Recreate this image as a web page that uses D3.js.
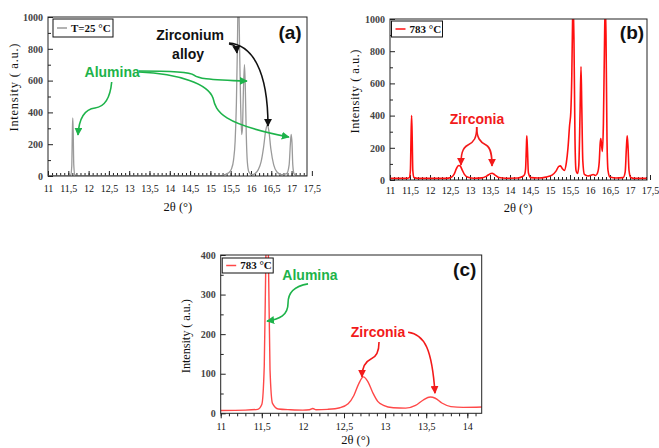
<!DOCTYPE html>
<html>
<head>
<meta charset="utf-8">
<script src="https://cdn.jsdelivr.net/npm/d3@7"></script>
<style>
    body { margin: 0; background: #fff; }
    svg text { font-family: "Liberation Serif", "Times New Roman", serif; }
    .note { font-family: "Liberation Sans", Arial, sans-serif; font-weight: bold; }
</style>
</head>
<body>
<svg id="fig" width="659" height="448"></svg>
<script>
// [2theta (deg), intensity (a.u.)]
const scanRoomTemp = [
    [11.00,0],[11.50,0],[11.56,6],[11.585,60],[11.60,280],[11.61,365],[11.62,290],[11.635,70],[11.66,8],[11.75,0],
    [15.20,0],[15.35,8],[15.45,20],[15.52,45],[15.57,100],[15.61,220],[15.64,450],[15.665,800],[15.68,1050],[15.70,1080],
    [15.72,800],[15.745,450],[15.77,260],[15.79,300],[15.815,550],[15.84,700],[15.86,560],[15.885,250],[15.91,90],[15.95,25],
    [16.02,8],[16.10,15],[16.18,40],[16.25,90],[16.31,180],[16.36,280],[16.40,322],[16.44,285],[16.49,170],[16.56,70],
    [16.64,25],[16.75,8],[16.88,15],[16.94,70],[16.97,200],[16.99,262],[17.01,210],[17.03,70],[17.06,15],[17.12,3],[17.20,0],[17.38,0]
];
const scanHotWide = [
    [11.00,10],[11.40,10],[11.48,14],[11.51,60],[11.525,250],[11.54,400],[11.555,260],[11.57,60],[11.60,15],[11.70,10],
    [12.40,10],[12.52,15],[12.60,35],[12.66,70],[12.71,90],[12.75,88],[12.80,65],[12.86,35],[12.95,17],[13.10,11],
    [13.30,13],[13.42,25],[13.50,38],[13.55,42],[13.62,32],[13.72,16],[13.90,11],[14.20,12],[14.30,20],[14.36,32],
    [14.39,70],[14.41,210],[14.42,275],[14.435,200],[14.46,45],[14.52,15],[14.70,12],[14.90,18],[15.05,30],[15.15,55],
    [15.22,85],[15.26,88],[15.31,70],[15.36,60],[15.41,110],[15.45,200],[15.49,340],[15.52,420],[15.545,650],[15.565,1000],
    [15.58,1100],[15.60,850],[15.625,250],[15.65,60],[15.69,40],[15.72,90],[15.75,400],[15.775,705],[15.795,450],[15.82,120],
    [15.86,35],[15.95,25],[16.02,30],[16.08,34],[16.14,28],[16.19,45],[16.23,110],[16.255,230],[16.27,258],[16.29,215],
    [16.31,178],[16.335,350],[16.36,800],[16.38,1100],[16.40,900],[16.425,250],[16.45,60],[16.50,18],[16.65,12],[16.83,15],
    [16.88,50],[16.91,200],[16.93,275],[16.95,210],[16.975,60],[17.02,15],[17.10,10],[17.43,10]
];
const scanHotZoom = [
    [11.00,7],[11.30,8],[11.45,10],[11.50,22],[11.53,120],[11.55,400],[11.565,520],[11.58,400],[11.60,110],[11.63,25],
    [11.70,11],[11.85,9],[12.00,8],[12.08,9],[12.12,12],[12.16,9],[12.30,10],[12.45,14],[12.55,24],[12.62,45],
    [12.68,75],[12.735,92],[12.79,80],[12.85,52],[12.91,30],[12.98,20],[13.10,14],[13.25,13],[13.37,20],[13.46,33],
    [13.55,41],[13.61,38],[13.69,26],[13.80,17],[13.95,15],[14.18,16]
];

const xTicksWide = [11,11.5,12,12.5,13,13.5,14,14.5,15,15.5,16,16.5,17,17.5];
const xTicksZoom = [11,11.5,12,12.5,13,13.5,14];
const yTicksWide = [0,200,400,600,800,1000];
const yTicksZoom = [0,100,200,300,400];

const GREEN = '#1db34a', RED = '#f21a1a', BLACK = '#111';

// annotations, points in data units: M p0, then C triples (or a final Q pair)
const notesA = {
    texts: [
        {t: 'Alumina', at: [12.58,654], color: GREEN},
        {t: 'Zirconium', at: [14.50,887], color: BLACK},
        {t: 'alloy', at: [14.45,767], color: BLACK}
    ],
    arrows: [
        {color: GREEN, pts: [[12.569,591],[12.527,478],[12.379,434],[12.158,428],[11.911,421],[11.764,365],[11.739,258]]},
        {color: GREEN, pts: [[13.241,660],[14.005,660],[14.498,654],[14.596,635],[14.695,616],[14.867,604],[15.901,597]]},
        {color: GREEN, pts: [[13.241,654],[14.251,642],[14.941,579],[15.064,491],[15.138,403],[15.286,327],[16.936,245]]},
        {color: BLACK, pts: [[15.458,830],[15.60,826],[15.64,815],[15.655,774]]},
        {color: BLACK, pts: [[15.458,836],[16.025,824],[16.419,667],[16.419,314]]}
    ]
};
const notesB = {
    texts: [{t: 'Zirconia', at: [13.175,379], color: RED}],
    arrows: [
        {color: RED, pts: [[13.168,329],[13.168,261],[13.10,236],[12.95,217],[12.80,199],[12.775,155],[12.775,93]]},
        {color: RED, pts: [[13.168,329],[13.168,261],[13.25,236],[13.40,217],[13.525,199],[13.55,155],[13.55,87]]}
    ]
};
const notesC = {
    texts: [
        {t: 'Alumina', at: [12.086,349], color: GREEN},
        {t: 'Zirconia', at: [12.914,205], color: RED}
    ],
    arrows: [
        {color: GREEN, pts: [[12.062,327],[11.892,321],[11.819,306],[11.819,278],[11.819,248],[11.721,238],[11.563,233]]},
        {color: RED, pts: [[12.926,180],[12.926,155],[12.889,142],[12.828,137],[12.755,130],[12.719,115],[12.719,92]]},
        {color: RED, pts: [[13.279,205],[13.486,200],[13.571,160],[13.607,51]]}
    ]
};

const svg = d3.select('#fig');
const defs = svg.append('defs');
[['g', GREEN], ['r', RED], ['k', BLACK]].forEach(([id, c]) => {
    defs.append('marker')
        .attr('id', 'head-' + id)
        .attr('viewBox', '0 0 10 10')
        .attr('refX', 9).attr('refY', 5)
        .attr('markerWidth', 8).attr('markerHeight', 8)
        .attr('markerUnits', 'userSpaceOnUse')
        .attr('orient', 'auto')
        .append('path').attr('d', 'M0,0 L10,5 L0,10 z').attr('fill', c);
});
const headId = c => c === GREEN ? 'head-g' : (c === RED ? 'head-r' : 'head-k');

function fmt(d) { return String(d).replace('.', ','); }

function drawPanel(o) {
    const x = d3.scaleLinear().domain(o.xDomain).range([o.left, o.right]);
    const y = d3.scaleLinear().domain([0, o.yMax]).range([o.bottom, o.top]);
    const g = svg.append('g');

    defs.append('clipPath').attr('id', 'clip-' + o.id)
        .append('rect')
        .attr('x', o.left).attr('y', o.top)
        .attr('width', o.right - o.left).attr('height', o.bottom - o.top);

    // minor ticks
    const minorX = d3.range(Math.round(o.xDomain[0] * 10), Math.floor(o.xDomain[1] * 10) + 1).map(v => v / 10);
    g.append('g')
        .attr('transform', `translate(0,${o.bottom})`)
        .call(d3.axisBottom(x).tickValues(minorX).tickFormat('').tickSize(o.tickDir * 3))
        .call(s => s.select('.domain').remove())
        .selectAll('line').attr('stroke', '#222');
    const minorY = o.yTicks.slice(0, -1).map((v, i) => (v + o.yTicks[i + 1]) / 2);
    g.append('g')
        .attr('transform', `translate(${o.left},0)`)
        .call(d3.axisLeft(y).tickValues(minorY).tickFormat('').tickSize(-3))
        .call(s => s.select('.domain').remove())
        .selectAll('line').attr('stroke', '#222');

    // major ticks
    const xa = g.append('g')
        .attr('transform', `translate(0,${o.bottom})`)
        .call(d3.axisBottom(x).tickValues(o.xTicks).tickFormat(fmt).tickSize(o.tickDir * 5).tickPadding(o.xPad));
    xa.select('.domain').remove();
    xa.attr('font-family', null);
    xa.selectAll('line').attr('stroke', '#222');
    xa.selectAll('text').style('font-size', '10px').attr('fill', '#111');

    const ya = g.append('g')
        .attr('transform', `translate(${o.left},0)`)
        .call(d3.axisLeft(y).tickValues(o.yTicks).tickFormat(d => String(d)).tickSize(-5).tickPadding(5));
    ya.select('.domain').remove();
    ya.attr('font-family', null);
    ya.selectAll('line').attr('stroke', '#222');
    ya.selectAll('text').style('font-size', '10px').style('font-weight', 'bold').attr('fill', '#444');

    // the scan
    const line = d3.line()
        .x(d => x(d[0]))
        .y(d => y(d[1]))
        .curve(d3.curveMonotoneX);
    g.append('path')
        .datum(o.data)
        .attr('clip-path', `url(#clip-${o.id})`)
        .attr('fill', 'none')
        .attr('stroke', o.color)
        .attr('stroke-width', o.lineWidth)
        .attr('d', line);

    // frame
    g.append('rect')
        .attr('x', o.left).attr('y', o.top)
        .attr('width', o.right - o.left).attr('height', o.bottom - o.top)
        .attr('fill', 'none').attr('stroke', '#222').attr('stroke-width', 1);

    // legend
    const lg = g.append('g').attr('transform', `translate(${o.left + o.legend.dx},${o.top + o.legend.dy})`);
    lg.append('rect').attr('width', o.legend.w).attr('height', o.legend.h)
        .attr('fill', '#fff').attr('stroke', '#111').attr('stroke-width', 1);
    lg.append('line').attr('x1', 4).attr('x2', 14).attr('y1', o.legend.h / 2).attr('y2', o.legend.h / 2)
        .attr('stroke', o.color).attr('stroke-width', 1.5);
    lg.append('text').attr('x', 18).attr('y', o.legend.h / 2).attr('dy', '0.35em')
        .style('font-size', '11px').style('font-weight', 'bold').attr('fill', '#111')
        .text(o.legend.label);

    // panel tag
    g.append('text').attr('class', 'note')
        .attr('x', o.right - o.tagDx).attr('y', o.top + o.tagDy)
        .attr('text-anchor', 'middle')
        .style('font-size', '19px').attr('fill', '#111')
        .text(o.tag);

    // axis titles
    g.append('text')
        .attr('transform', `translate(${o.left - o.yTitleDx},${(o.top + o.bottom) / 2 + o.yTitleDy}) rotate(-90)`)
        .attr('text-anchor', 'middle')
        .attr('textLength', o.yTitleLen).attr('lengthAdjust', 'spacing')
        .style('font-size', '12.5px').attr('fill', '#111')
        .text('Intensity ( a.u.)');
    g.append('text')
        .attr('x', x(o.xTitleAt)).attr('y', o.bottom + o.xTitleDy)
        .attr('text-anchor', 'middle')
        .style('font-size', '12.5px').attr('fill', '#111')
        .text('2θ (°)');

    // annotations
    o.notes.arrows.forEach(a => {
        const p = a.pts.map(d => [x(d[0]), y(d[1])]);
        let d = `M${p[0]}`;
        let i = 1;
        while (i < p.length) {
            if (p.length - i === 2) { d += `Q${p[i]} ${p[i + 1]}`; break; }
            d += `C${p[i]} ${p[i + 1]} ${p[i + 2]}`;
            i += 3;
        }
        g.append('path').attr('d', d)
            .attr('fill', 'none').attr('stroke', a.color).attr('stroke-width', 1.6)
            .attr('marker-end', `url(#${headId(a.color)})`);
    });
    o.notes.texts.forEach(t => {
        g.append('text').attr('class', 'note')
            .attr('x', x(t.at[0])).attr('y', y(t.at[1])).attr('dy', '0.35em')
            .attr('text-anchor', 'middle')
            .style('font-size', '14px').attr('fill', t.color)
            .text(t.t);
    });
}

drawPanel({
    id: 'a', tag: '(a)', data: scanRoomTemp, color: '#9a9a9a', lineWidth: 1.3,
    left: 48, right: 307, top: 17, bottom: 176,
    xDomain: [11, 17.38], yMax: 1000, xTicks: xTicksWide, yTicks: yTicksWide,
    tickDir: -1, xPad: 9,
    legend: {dx: 5, dy: 2, w: 60, h: 18, label: 'T=25 °C'},
    tagDx: 17, tagDy: 22,
    yTitleDx: 30, yTitleDy: -9, yTitleLen: 88, xTitleAt: 14.2, xTitleDy: 35,
    notes: notesA
});
drawPanel({
    id: 'b', tag: '(b)', data: scanHotWide, color: '#ff1010', lineWidth: 1.6,
    left: 390, right: 647, top: 19, bottom: 180,
    xDomain: [11, 17.425], yMax: 1000, xTicks: xTicksWide, yTicks: yTicksWide,
    tickDir: -1, xPad: 7,
    legend: {dx: 1.5, dy: 2, w: 51, h: 16, label: '783 °C'},
    tagDx: 15, tagDy: 20,
    yTitleDx: 31, yTitleDy: -8, yTitleLen: 84, xTitleAt: 14.2, xTitleDy: 32,
    notes: notesB
});
drawPanel({
    id: 'c', tag: '(c)', data: scanHotZoom, color: '#ff4848', lineWidth: 1.4,
    left: 220.7, right: 481.7, top: 255, bottom: 413.3,
    xDomain: [11, 14.175], yMax: 400, xTicks: xTicksZoom, yTicks: yTicksZoom,
    tickDir: 1, xPad: 5,
    legend: {dx: 1.5, dy: 3, w: 51, h: 15, label: '783 °C'},
    tagDx: 17, tagDy: 21,
    yTitleDx: 31, yTitleDy: 2, yTitleLen: 74, xTitleAt: 12.64, xTitleDy: 31,
    notes: notesC
});
</script>
</body>
</html>
